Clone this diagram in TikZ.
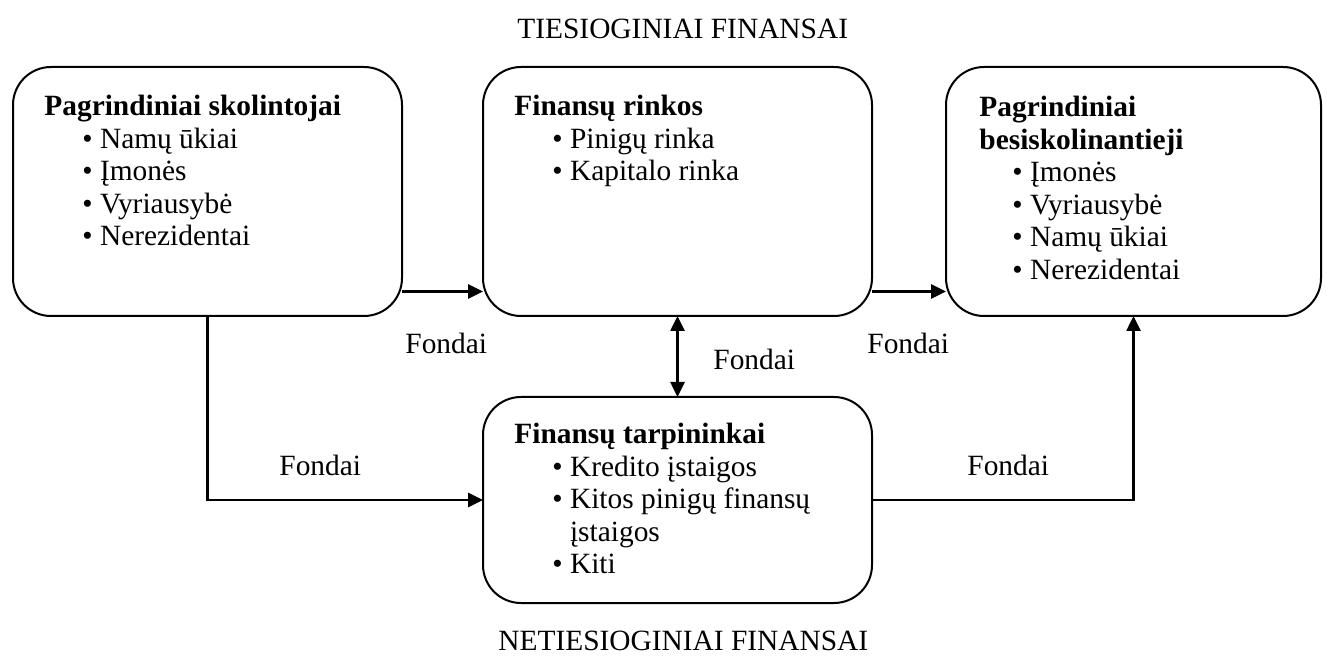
\documentclass[tikz,border=0pt]{standalone}
\usepackage{fontspec}
\setmainfont{Liberation Serif}
\usetikzlibrary{arrows.meta}
\tikzset{every node/.style={font=\fontsize{14.7}{16}\selectfont, inner sep=0pt},
  blok/.style={draw, line width=1pt, rounded corners=19pt, minimum width=194.5pt, minimum height=124.5pt, outer sep=0pt},
  ttl/.style={anchor=base west, font=\fontsize{14.7}{16}\selectfont\bfseries},
  itm/.style={anchor=base west},
  arr/.style={line width=1.3pt, -{Triangle[length=7.5pt,width=7pt]}},
  arrtwo/.style={line width=1.3pt, {Triangle[length=7.5pt,width=7pt]}-{Triangle[length=7.5pt,width=7pt]}}}

\begin{document}
\begin{tikzpicture}[x=0.5pt,y=-0.5pt]
   \useasboundingbox (0,0) rectangle (1327,662);

   % headings
   \node[itm] (virsus) at (517,39) {TIESIOGINIAI FINANSAI};
   \node[itm] (apacia) at (498,650) {NETIESIOGINIAI FINANSAI};

   % boxes
   \node[blok] (lend) at (207.5,191.5) {};
   \node[blok] (rink) at (677.5,191.5) {};
   \node[blok, minimum width=187.5pt] (skol) at (1133.5,191.5) {};
   \node[blok, minimum height=103pt] (tarp) at (677.5,500) {};

   % box texts
   \node[ttl] (lend0) at (44,116) {Pagrindiniai skolintojai};
   \node[itm] (lend1) at (82,148.5) {• Namų ūkiai};
   \node[itm] (lend2) at (82,181) {• Įmonės};
   \node[itm] (lend3) at (82,213.5) {• Vyriausybė};
   \node[itm] (lend4) at (82,246) {• Nerezidentai};

   \node[ttl] (rink0) at (514,116) {Finansų rinkos};
   \node[itm] (rink1) at (552,148.5) {• Pinigų rinka};
   \node[itm] (rink2) at (552,181) {• Kapitalo rinka};

   \node[ttl] (skol0) at (979,117) {Pagrindiniai};
   \node[ttl] (skol1) at (979,149.5) {besiskolinantieji};
   \node[itm] (skol2) at (1012,182) {• Įmonės};
   \node[itm] (skol3) at (1012,214.5) {• Vyriausybė};
   \node[itm] (skol4) at (1012,247) {• Namų ūkiai};
   \node[itm] (skol5) at (1012,279.5) {• Nerezidentai};

   \node[ttl] (tarp0) at (514,444) {Finansų tarpininkai};
   \node[itm] (tarp1) at (552,476) {• Kredito įstaigos};
   \node[itm] (tarp2) at (552,508.5) {• Kitos pinigų finansų};
   \node[itm] (tarp3) at (552,541) {\phantom{• }įstaigos};
   \node[itm] (tarp4) at (552,573.5) {• Kiti};

   % flows
   \draw[arr] ([yshift=-50pt]lend.east) -- ([yshift=-50pt]rink.west);
   \draw[arr] ([yshift=-50pt]rink.east) -- ([yshift=-50pt]skol.west);
   \draw[arrtwo] (rink.south) -- (tarp.north);
   \draw[arr] (lend.south) |- (tarp.west);
   \draw[arr] (tarp.east) -| (skol.south);

   \node[itm] (f1) at (405,354) {Fondai};
   \node[itm] (f2) at (713,370) {Fondai};
   \node[itm] (f3) at (867,354) {Fondai};
   \node[itm] (f4) at (279,475) {Fondai};
   \node[itm] (f5) at (967,475) {Fondai};
\end{tikzpicture}
\end{document}
